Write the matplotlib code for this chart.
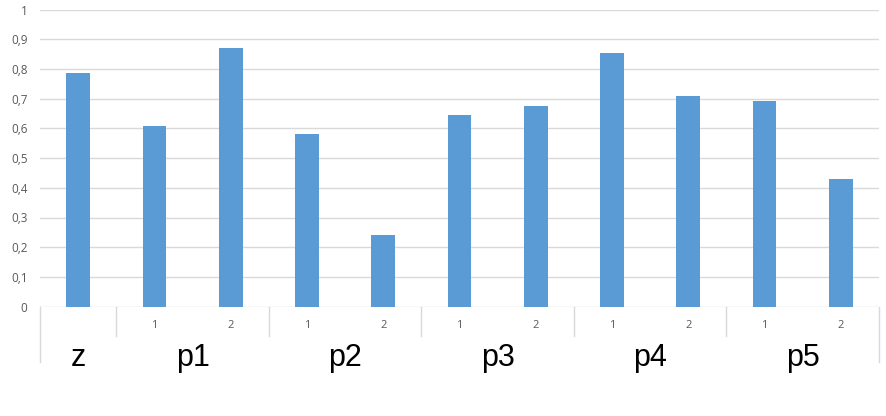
import numpy as np
import matplotlib
matplotlib.use("Agg")
import matplotlib.pyplot as plt
from matplotlib.ticker import FuncFormatter
import matplotlib.transforms as mtransforms

# two-level category axis: group name + sub index
outer = ["z", "p1", "p1", "p2", "p2", "p3", "p3", "p4", "p4", "p5", "p5"]
inner = ["", "1", "2", "1", "2", "1", "2", "1", "2", "1", "2"]
values = [0.786, 0.609, 0.870, 0.580, 0.240, 0.646, 0.675, 0.854, 0.709, 0.691, 0.431]

BAR_COLOR = "#5B9BD5"
GRID_COLOR = "#D9D9D9"
TEXT_GRAY = "#595959"

plt.rcParams["font.family"] = ["Liberation Sans", "DejaVu Sans"]

fig = plt.figure(figsize=(8.86, 4.16), dpi=100)
ax = fig.add_axes([40 / 886, 109.4 / 416, 839 / 886, 297 / 416])

x = np.arange(len(values))
ax.bar(x, values, width=0.31, color=BAR_COLOR, zorder=3)

ax.set_xlim(-0.5, len(values) - 0.5)
ax.set_ylim(0, 1)
ax.set_yticks(np.arange(0, 1.01, 0.1))
ax.yaxis.set_major_formatter(FuncFormatter(lambda v, p: f"{v:.1f}".replace(".", ",") if 0 < v < 0.999 else f"{v:.0f}"))
ax.tick_params(axis="y", length=0, pad=9, labelcolor=TEXT_GRAY)
for lab in ax.get_yticklabels():
    lab.set_fontfamily(["Open Sans", "DejaVu Sans"])
    lab.set_fontsize(8.5)
ax.set_xticks([])
ax.grid(axis="y", color=GRID_COLOR, lw=1, zorder=0)
for s in ax.spines.values():
    s.set_visible(False)

trans = mtransforms.blended_transform_factory(ax.transData, ax.transAxes)

# inner labels
for xi, lab in zip(x, inner):
    if lab:
        ax.text(xi, -0.064, lab, transform=trans, ha="center", va="center",
                fontsize=8, color=TEXT_GRAY, family=["Open Sans", "DejaVu Sans"])

# group spans
spans = []
start = 0
for i in range(1, len(outer) + 1):
    if i == len(outer) or outer[i] != outer[start]:
        spans.append((outer[start], start, i - 1))
        start = i

for name, a, b in spans:
    ax.text((a + b) / 2, -0.172, name, transform=trans, ha="center", va="center",
            fontsize=22, color="black")

# separators
bounds = [a - 0.5 for _, a, _ in spans] + [len(values) - 0.5]
for k, bx in enumerate(bounds):
    low = -0.185 if k in (0, len(bounds) - 1) else -0.098
    ax.plot([bx, bx], [0, low], transform=trans, color=GRID_COLOR, lw=1, clip_on=False)

fig.savefig("out.png", dpi=100)
